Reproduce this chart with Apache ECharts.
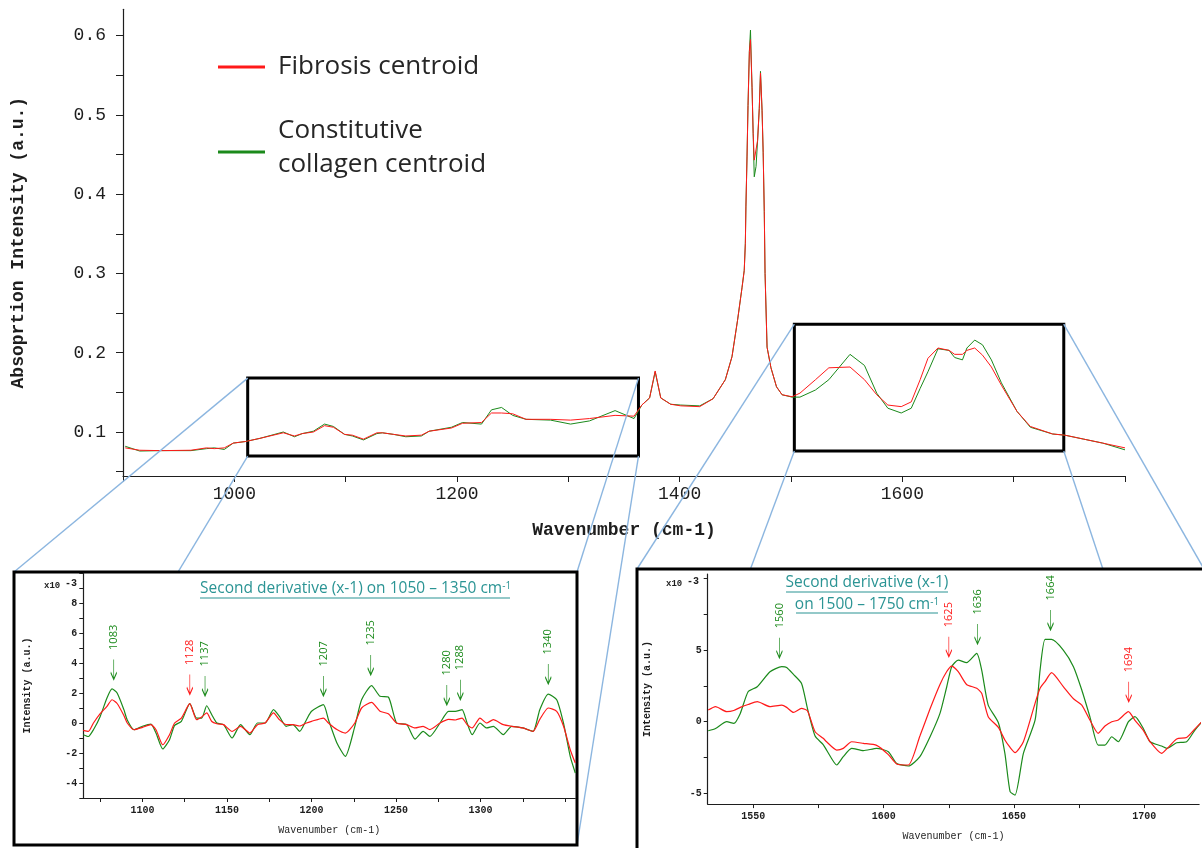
<!DOCTYPE html>
<html>
<head>
<meta charset="utf-8">
<script src="https://cdn.jsdelivr.net/npm/echarts@6/dist/echarts.min.js"></script>
<style>
  html, body { margin: 0; padding: 0; background: #fff; }
  #chart { width: 1202px; height: 848px; }
</style>
</head>
<body>
<div id="chart"></div>
<script>
// ---------------- Data ----------------

// Main spectrum (absorption, a.u.)
const mainX = [902, 915, 934, 961, 975, 982, 991, 999, 1010, 1023, 1044, 1054, 1061, 1071, 1081, 1089, 1099, 1106, 1116, 1128,
  1133, 1143, 1154, 1168, 1175, 1195, 1205, 1222, 1231, 1240, 1250, 1262, 1284, 1302, 1319, 1342, 1359, 1366, 1373, 1378,
  1383, 1392, 1401, 1418, 1430, 1441, 1447, 1452, 1456, 1458, 1459, 1459.5, 1460.5, 1461.4, 1462.6, 1463.6, 1465, 1466, 1467, 1468.6,
  1470, 1471.5, 1472.6, 1474, 1475, 1476, 1476.7, 1478.5, 1482, 1487, 1492, 1501, 1508, 1522, 1534, 1553, 1566, 1577, 1587, 1599,
  1608, 1616, 1623, 1632, 1642, 1647, 1654, 1658, 1665, 1672, 1680, 1689, 1703, 1715, 1735, 1746, 1763, 1780, 1800];
const mainRed = [0.080, 0.077, 0.0765, 0.077, 0.080, 0.079, 0.080, 0.086, 0.088, 0.092, 0.099, 0.095, 0.098, 0.100, 0.108, 0.106, 0.097, 0.096, 0.091, 0.099,
  0.099, 0.097, 0.095, 0.096, 0.101, 0.105, 0.111, 0.112, 0.124, 0.124, 0.123, 0.116, 0.116, 0.115, 0.117, 0.121, 0.120, 0.134, 0.143, 0.177,
  0.143, 0.135, 0.133, 0.132, 0.142, 0.166, 0.195, 0.241, 0.282, 0.304, 0.338, 0.384, 0.447, 0.512, 0.580, 0.595, 0.535, 0.477, 0.443, 0.441,
  0.468, 0.508, 0.553, 0.506, 0.453, 0.378, 0.300, 0.207, 0.181, 0.157, 0.147, 0.1445, 0.149, 0.166, 0.181, 0.182, 0.166, 0.147, 0.134, 0.132,
  0.138, 0.166, 0.193, 0.206, 0.203, 0.198, 0.198, 0.203, 0.206, 0.197, 0.182, 0.159, 0.126, 0.107, 0.0975, 0.096, 0.091, 0.086, 0.080];
const mainGreen = [0.082, 0.076, 0.0765, 0.0765, 0.079, 0.080, 0.078, 0.086, 0.088, 0.092, 0.100, 0.094, 0.098, 0.101, 0.110, 0.107, 0.097, 0.095, 0.090, 0.098,
  0.099, 0.097, 0.094, 0.095, 0.101, 0.106, 0.112, 0.110, 0.128, 0.131, 0.121, 0.116, 0.115, 0.110, 0.114, 0.127, 0.117, 0.134, 0.143, 0.176,
  0.143, 0.135, 0.134, 0.133, 0.142, 0.166, 0.195, 0.241, 0.282, 0.304, 0.338, 0.384, 0.447, 0.512, 0.580, 0.607, 0.535, 0.477, 0.422, 0.435,
  0.468, 0.508, 0.555, 0.506, 0.453, 0.378, 0.300, 0.207, 0.181, 0.157, 0.147, 0.144, 0.144, 0.153, 0.166, 0.198, 0.184, 0.149, 0.130, 0.124,
  0.130, 0.155, 0.176, 0.205, 0.203, 0.194, 0.191, 0.206, 0.216, 0.210, 0.191, 0.162, 0.126, 0.106, 0.0975, 0.096, 0.091, 0.086, 0.0775];

// Zoom boxes on the main spectrum [xFrom, xTo], [yFrom, yTo]
const box1X = [1012, 1363], box1Y = [0.0697, 0.168];
const box2X = [1503, 1745], box2Y = [0.076, 0.236];

// Second derivative, 1050-1350 (x10^-3)
const ins1X = [1065, 1068, 1071, 1075, 1079, 1082, 1085, 1089, 1091, 1095, 1100, 1105, 1108, 1112, 1116, 1119, 1123, 1128, 1132, 1135,
  1138, 1141, 1144, 1148, 1153, 1158, 1163.5, 1168, 1172.5, 1177.5, 1181, 1185, 1189, 1193, 1197, 1200, 1207, 1210, 1215, 1220,
  1225.6, 1229.6, 1235.5, 1240.5, 1245.4, 1250.3, 1256.3, 1261.2, 1266, 1270, 1276, 1281, 1285, 1289, 1292, 1295, 1299.6, 1303.6, 1307.5, 1313.4,
  1318.4, 1325, 1331, 1335, 1340, 1345, 1349, 1353, 1356];
const ins1Green = [-0.78, -0.9, -0.45, 0.44, 1.67, 2.27, 2.0, 0.89, 0.2, -0.45, -0.22, -0.07, -0.67, -1.73, -1.11, -0.16, 0.11, 1.29, 0.33, 0.33,
  1.15, 0.55, 0.0, -0.11, -1.0, -0.11, -0.78, 0.0, 0.0, 0.89, 0.44, -0.22, -0.11, -0.56, 0.22, 0.78, 1.22, 0.22, -1.33, -2.22,
  -0.22, 1.55, 2.49, 1.78, 1.73, 0.0, -0.11, -1.07, -0.56, -0.89, 0.0, 0.78, 0.78, 0.89, 0.0, -0.78, 0.0, -0.33, -0.22, -0.78,
  -0.22, -0.33, -0.56, 0.89, 1.93, 1.55, 0.0, -2.22, -3.33];
const ins1Red = [-0.49, -0.56, 0.0, 0.62, 1.11, 1.55, 1.3, 0.5, 0.0, -0.45, -0.29, -0.11, -0.45, -1.45, -0.78, 0.0, 0.33, 1.29, 0.22, 0.4,
  0.67, 0.1, -0.05, -0.11, -0.56, -0.22, -0.67, -0.11, 0.0, 0.67, 0.22, -0.11, -0.11, -0.2, 0.0, 0.11, 0.33, 0.0, -0.44, -0.67,
  0.0, 1.0, 1.37, 0.78, 0.62, 0.0, -0.11, -0.33, -0.22, -0.44, 0.0, 0.24, 0.2, 0.33, -0.11, -0.33, 0.33, 0.0, 0.22, -0.11,
  -0.22, -0.33, -0.56, 0.24, 1.0, 0.78, -0.2, -1.78, -2.67];

// Second derivative, 1500-1750 (x10^-3)
const ins2X = [1532.7, 1535.5, 1539.8, 1542.5, 1545, 1548, 1551.5, 1556.4, 1560.9, 1562.8, 1565.4, 1568.5, 1570.8, 1573.7, 1576.8, 1578.1, 1582, 1584.5, 1587.7, 1592.2,
  1597.3, 1601.8, 1605, 1609.5, 1613.9, 1617.8, 1621.6, 1624.2, 1626.1, 1628.6, 1631.8, 1635.7, 1637.6, 1640.1, 1644, 1646.5, 1648.5, 1650.4, 1653.6, 1658.1,
  1660, 1661.9, 1664.4, 1668.9, 1672.8, 1676, 1679.1, 1682.3, 1684.9, 1687.5, 1690, 1693.9, 1696.4, 1699.6, 1702.2, 1706.6, 1708.6, 1712.4, 1716.2, 1719.4, 1722.1];
const ins2Green = [-0.63, -0.47, 0.0, -0.12, 0.58, 2.09, 2.44, 3.49, 3.84, 3.79, 3.3, 2.67, 0.9, -1.0, -1.6, -1.98, -3.02, -2.44, -1.86, -2.02,
  -1.86, -2.09, -2.91, -3.09, -2.44, -1.05, 0.58, 2.44, 3.84, 4.3, 4.12, 4.77, 3.6, 1.16, -0.07, -2.21, -4.88, -5.12, -2.21, 0.12,
  3.6, 5.74, 5.74, 5.0, 3.84, 2.21, 0.35, -1.63, -1.63, -1.05, -1.4, 0.0, 0.35, -0.47, -1.4, -1.7, -1.86, -1.47, -1.4, -0.58, 0.0];
const ins2Red = [0.81, 1.05, 0.7, 0.78, 1.0, 1.2, 1.4, 1.05, 1.16, 1.0, 0.65, 0.93, 0.75, -0.7, -1.16, -1.4, -1.98, -1.86, -1.4, -1.51,
  -1.65, -2.3, -2.95, -3.02, -1.0, 0.9, 2.6, 3.5, 3.88, 3.49, 2.6, 2.33, 1.98, 0.35, -0.4, -1.28, -1.8, -2.16, -1.4, 1.3,
  2.33, 2.8, 3.42, 2.45, 1.6, 1.16, 0.12, -0.81, -0.3, 0.0, 0.12, 0.7, 0.1, -0.6, -1.4, -2.21, -1.9, -1.2, -1.1, -0.5, 0.0];

// Peak annotations: label, arrow tip height, which curve
const ins1PeakLabels = ['1083', '1128', '1137', '1207', '1235', '1280', '1288', '1340'];
const ins1PeakTips   = [2.9, 1.9, 1.8, 1.8, 3.2, 1.2, 1.55, 2.6];
const ins1PeakCurve  = ['g', 'r', 'g', 'g', 'g', 'g', 'g', 'g'];
const ins2PeakLabels = ['1560', '1625', '1636', '1664', '1694'];
const ins2PeakTips   = [4.46, 4.53, 5.42, 6.4, 1.39];
const ins2PeakCurve  = ['g', 'r', 'g', 'g', 'r'];

// Tick / label values
const mainXTicks = [900, 1000, 1100, 1200, 1300, 1400, 1500, 1600, 1700, 1800];
const mainXLabels = [1000, 1200, 1400, 1600];
const mainYTicks = [0.05, 0.1, 0.15, 0.2, 0.25, 0.3, 0.35, 0.4, 0.45, 0.5, 0.55, 0.6];
const mainYLabels = [0.1, 0.2, 0.3, 0.4, 0.5, 0.6];
const ins1XTicks = [1075, 1100, 1125, 1150, 1175, 1200, 1225, 1250, 1275, 1300, 1325, 1350];
const ins1XLabels = [1100, 1150, 1200, 1250, 1300];
const ins1YTicks = [-5, -4, -3, -2, -1, 0, 1, 2, 3, 4, 5, 6, 7, 8, 9, 10];
const ins1YLabels = [-4, -2, 0, 2, 4, 6, 8];
const ins2XTicks = [1550, 1575, 1600, 1625, 1650, 1675, 1700];
const ins2XLabels = [1550, 1600, 1650, 1700];
const ins2YTicks = [-5, -2.5, 0, 2.5, 5, 7.5, 10];
const ins2YLabels = [-5, 0, 5];

// ---------------- Styles ----------------
const RED = '#ff1a1a';
const GREEN = '#1b8a1b';
const TEAL = '#2b9494';
const BLUE = '#8cb6e0';
const INK = '#1e1e1e';
const MONO = '"Liberation Mono", "DejaVu Sans Mono", monospace';
const SANS = '"Open Sans", "Noto Sans", sans-serif';

const zip = (xs, ys) => xs.map((x, i) => [x, ys[i]]);
const plain = v => String(v);

function peakPoints(labels, tips, curve, which) {
  return labels
    .map((l, i) => ({ l, i }))
    .filter(p => curve[p.i] === which)
    .map(p => ({ name: p.l, coord: [Number(p.l), tips[p.i]] }));
}

function peakMarker(data, color) {
  return {
    z: 85,
    symbol: 'path://M3,0L3,20M0,13L3,20L6,13',
    symbolSize: [6, 20],
    symbolOffset: [0, '-50%'],
    symbolKeepAspect: false,
    itemStyle: { color: 'none', borderColor: color, borderWidth: 1.2 },
    label: {
      show: true, position: 'top', distance: 5, rotate: 90,
      align: 'left', verticalAlign: 'middle',
      formatter: '{b}', color: color, fontSize: 11, fontFamily: SANS
    },
    data: data
  };
}

function insetXAxis(grid, min, max, ticks, labels) {
  return {
    type: 'value', gridIndex: grid, min: min, max: max, z: 70,
    axisLine: { onZero: false, lineStyle: { color: INK, width: 1.2 } },
    axisTick: { customValues: ticks, length: 4, lineStyle: { color: INK } },
    axisLabel: { customValues: labels, formatter: plain, margin: 7, color: INK, fontFamily: MONO, fontSize: 10, fontWeight: 'bold' },
    splitLine: { show: false },
    name: 'Wavenumber (cm-1)', nameLocation: 'middle', nameGap: 27,
    nameTextStyle: { color: INK, fontFamily: MONO, fontSize: 10 }
  };
}

function insetYAxis(grid, min, max, ticks, labels, gap) {
  return {
    type: 'value', gridIndex: grid, min: min, max: max, z: 70,
    axisLine: { show: true, onZero: false, lineStyle: { color: INK, width: 1.2 } },
    axisTick: { show: true, customValues: ticks, length: 4, lineStyle: { color: INK } },
    axisLabel: { customValues: labels, formatter: plain, margin: 6, color: INK, fontFamily: MONO, fontSize: 10, fontWeight: 'bold' },
    splitLine: { show: false },
    name: 'Intensity (a.u.)', nameLocation: 'middle', nameGap: gap, nameRotate: 90,
    nameTextStyle: { color: INK, fontFamily: MONO, fontSize: 10, fontWeight: 'bold' }
  };
}

const chart = echarts.init(document.getElementById('chart'));

const option = {
  animation: false,
  backgroundColor: '#fff',
  grid: [
    { left: 123, top: 9.3, width: 1002, height: 466.7 },
    { left: 83.3, top: 573, width: 492, height: 225 },
    { left: 707.7, top: 574.1, width: 491.4, height: 230 }
  ],
  xAxis: [
    {
      type: 'value', gridIndex: 0, min: 900, max: 1800,
      axisLine: { onZero: false, lineStyle: { color: INK, width: 1.2 } },
      axisTick: { customValues: mainXTicks, length: 6, lineStyle: { color: INK } },
      axisLabel: { customValues: mainXLabels, formatter: plain, margin: 9, color: INK, fontFamily: MONO, fontSize: 18 },
      splitLine: { show: false },
      name: 'Wavenumber (cm-1)', nameLocation: 'middle', nameGap: 45,
      nameTextStyle: { color: INK, fontFamily: MONO, fontSize: 18, fontWeight: 'bold' }
    },
    insetXAxis(1, 1065, 1356, ins1XTicks, ins1XLabels),
    insetXAxis(2, 1532.5, 1721, ins2XTicks, ins2XLabels)
  ],
  yAxis: [
    {
      type: 'value', gridIndex: 0, min: 0.0445, max: 0.6333,
      axisLine: { show: true, onZero: false, lineStyle: { color: INK, width: 1.2 } },
      axisTick: { show: true, customValues: mainYTicks, length: 7, lineStyle: { color: INK } },
      axisLabel: { customValues: mainYLabels, margin: 17, color: INK, fontFamily: MONO, fontSize: 18,
        formatter: v => v.toFixed(1) },
      splitLine: { show: false },
      name: 'Absoprtion Intensity (a.u.)', nameLocation: 'middle', nameGap: 96, nameRotate: 90,
      nameTextStyle: { color: INK, fontFamily: MONO, fontSize: 18, fontWeight: 'bold' }
    },
    insetYAxis(1, -5, 10, ins1YTicks, ins1YLabels, 51),
    insetYAxis(2, -5.75, 10.3, ins2YTicks, ins2YLabels, 55)
  ],
  series: [
    {
      name: 'Constitutive collagen centroid', type: 'line', xAxisIndex: 0, yAxisIndex: 0,
      showSymbol: false, data: zip(mainX, mainGreen), lineStyle: { color: GREEN, width: 1 }
    },
    {
      name: 'Fibrosis centroid', type: 'line', xAxisIndex: 0, yAxisIndex: 0,
      showSymbol: false, data: zip(mainX, mainRed), lineStyle: { color: RED, width: 1 },
      markArea: {
        silent: true,
        itemStyle: { color: 'rgba(0,0,0,0)', borderColor: '#000', borderWidth: 3 },
        data: [
          [{ coord: [box1X[0], box1Y[1]] }, { coord: [box1X[1], box1Y[0]] }],
          [{ coord: [box2X[0], box2Y[1]] }, { coord: [box2X[1], box2Y[0]] }]
        ]
      }
    },
    {
      type: 'line', xAxisIndex: 1, yAxisIndex: 1, z: 80, showSymbol: false, smooth: 0.2,
      data: zip(ins1X, ins1Green), lineStyle: { color: GREEN, width: 1.2 },
      markPoint: peakMarker(peakPoints(ins1PeakLabels, ins1PeakTips, ins1PeakCurve, 'g'), GREEN)
    },
    {
      type: 'line', xAxisIndex: 1, yAxisIndex: 1, z: 81, showSymbol: false, smooth: 0.2,
      data: zip(ins1X, ins1Red), lineStyle: { color: RED, width: 1.2 },
      markPoint: peakMarker(peakPoints(ins1PeakLabels, ins1PeakTips, ins1PeakCurve, 'r'), RED)
    },
    {
      type: 'line', xAxisIndex: 2, yAxisIndex: 2, z: 80, showSymbol: false, smooth: 0.2,
      data: zip(ins2X, ins2Green), lineStyle: { color: GREEN, width: 1.2 },
      markPoint: peakMarker(peakPoints(ins2PeakLabels, ins2PeakTips, ins2PeakCurve, 'g'), GREEN)
    },
    {
      type: 'line', xAxisIndex: 2, yAxisIndex: 2, z: 81, showSymbol: false, smooth: 0.2,
      data: zip(ins2X, ins2Red), lineStyle: { color: RED, width: 1.2 },
      markPoint: peakMarker(peakPoints(ins2PeakLabels, ins2PeakTips, ins2PeakCurve, 'r'), RED)
    }
  ]
};

chart.setOption(option);

// ---------------- Overlays: frames, zoom lines, legend, titles ----------------
const frame1 = { x: 14, y: 572, width: 563, height: 273 };
const frame2 = { x: 637, y: 569, width: 567, height: 305 };

function corners(bx, by) {
  const px = p => chart.convertToPixel({ xAxisIndex: 0, yAxisIndex: 0 }, p);
  return {
    tl: px([bx[0], by[1]]), tr: px([bx[1], by[1]]),
    bl: px([bx[0], by[0]]), br: px([bx[1], by[0]])
  };
}
function frameCorners(f) {
  return {
    tl: [f.x, f.y], tr: [f.x + f.width, f.y],
    bl: [f.x, f.y + f.height], br: [f.x + f.width, f.y + f.height]
  };
}
function zoomLines(b, f) {
  return ['tl', 'tr', 'bl', 'br'].map(k => ({
    type: 'line', z: 50, silent: true,
    shape: { x1: b[k][0], y1: b[k][1], x2: f[k][0], y2: f[k][1] },
    style: { stroke: BLUE, lineWidth: 1.4 }
  }));
}

function underline(x1, x2, y) {
  return { type: 'line', z: 100, shape: { x1: x1, y1: y, x2: x2, y2: y }, style: { stroke: TEAL, lineWidth: 1.2 } };
}
function titleText(x, y, text, align) {
  return {
    type: 'text', z: 100, x: x, y: y,
    style: {
      text: text, fill: TEAL, font: '15.5px ' + SANS, align: align, verticalAlign: 'middle',
      rich: { s: { fontSize: 10, fill: TEAL, fontFamily: SANS, verticalAlign: 'top', lineHeight: 16 } }
    }
  };
}
function expLabel(x, y) {
  return [
    { type: 'text', z: 100, x: x, y: y, style: { text: 'x10', fill: INK, font: 'bold 9px ' + MONO, verticalAlign: 'middle' } },
    { type: 'text', z: 100, x: x + 21, y: y - 3, style: { text: '-3', fill: INK, font: 'bold 10px ' + MONO, verticalAlign: 'middle' } }
  ];
}

const graphics = [].concat(
  zoomLines(corners(box1X, box1Y), frameCorners(frame1)),
  zoomLines(corners(box2X, box2Y), frameCorners(frame2)),
  [
    { type: 'rect', z: 60, shape: frame1, style: { fill: '#fff', stroke: '#000', lineWidth: 3 } },
    { type: 'rect', z: 60, shape: frame2, style: { fill: '#fff', stroke: '#000', lineWidth: 3 } },
    // legend
    { type: 'line', z: 100, shape: { x1: 218, y1: 67, x2: 265, y2: 67 }, style: { stroke: RED, lineWidth: 3 } },
    { type: 'line', z: 100, shape: { x1: 218, y1: 152, x2: 265, y2: 152 }, style: { stroke: GREEN, lineWidth: 3 } },
    { type: 'text', z: 100, x: 278, y: 67, style: { text: 'Fibrosis centroid', fill: '#262626', font: '26px ' + SANS, verticalAlign: 'middle' } },
    { type: 'text', z: 100, x: 278, y: 148, style: { text: 'Constitutive\ncollagen centroid', fill: '#262626', font: '26px ' + SANS, lineHeight: 34, verticalAlign: 'middle' } },
    // inset titles
    titleText(200, 589, 'Second derivative (x-1) on 1050 \u2013 1350 cm{s|-1}', 'left'),
    underline(200, 510, 598),
    titleText(867, 583, 'Second derivative (x-1)', 'center'),
    underline(786, 948, 592),
    titleText(867, 605, 'on 1500 \u2013 1750 cm{s|-1}', 'center'),
    underline(796, 938, 613)
  ],
  expLabel(44, 586),
  expLabel(666, 584)
);

chart.setOption({ graphic: { elements: graphics } });
</script>
</body>
</html>
